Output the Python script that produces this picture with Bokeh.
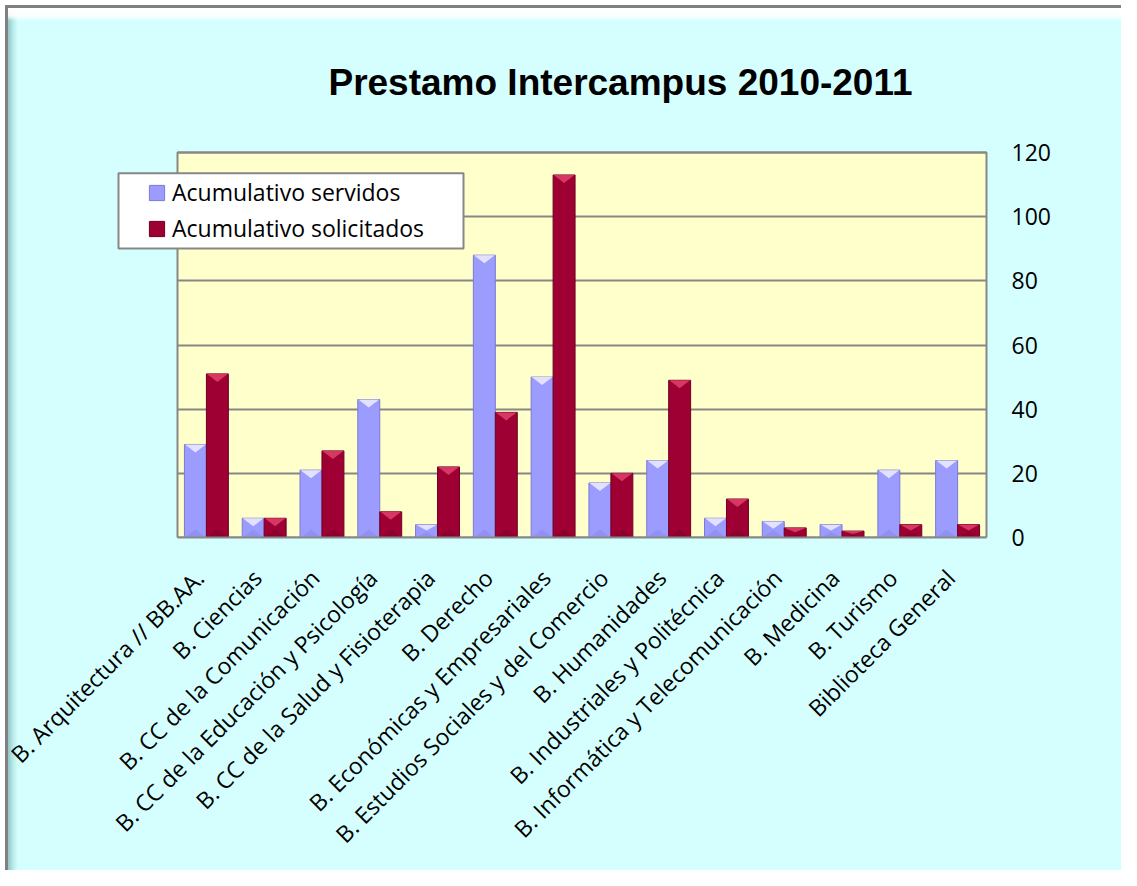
import numpy as np
from bokeh.plotting import figure
from bokeh.models import (ColumnDataSource, Range1d, FixedTicker, Legend, LegendItem,
                          Label, BoxAnnotation, Grid)
from bokeh.embed import file_html
from bokeh.resources import INLINE

# ---------------- data ----------------
categories = [
    "B. Arquitectura // BB.AA.",
    "B. Ciencias",
    "B. CC de la Comunicación",
    "B. CC de la Educación y Psicología",
    "B. CC de la Salud y Fisioterapia",
    "B. Derecho",
    "B. Económicas y Empresariales",
    "B. Estudios Sociales y del Comercio",
    "B. Humanidades",
    "B. Industriales y Politécnica",
    "B. Informática y Telecomunicación",
    "B. Medicina",
    "B. Turismo",
    "Biblioteca General",
]
servidos = [29, 6, 21, 43, 4, 88, 50, 17, 24, 6, 5, 4, 21, 24]
solicitados = [51, 6, 27, 8, 22, 39, 113, 20, 49, 12, 3, 2, 4, 4]
series_names = ["Acumulativo servidos", "Acumulativo solicitados"]
y_ticks = [0, 20, 40, 60, 80, 100, 120]
title_text = "Prestamo Intercampus 2010-2011"

# ---------------- style ----------------
FONT = "Open Sans"
GRID = "#878787"
C_SERV = "#9C9CFF"
C_SERV_EDGE = "#7A7AD2"
C_SERV_TOP = "#EAEAFF"
C_SERV_BOT = "#8E8EF0"
C_SOL = "#9E0033"
C_SOL_EDGE = "#6E0022"
C_SOL_TOP = "#DE3D68"
C_SOL_BOT = "#86002B"

W, H = 1121, 870
# plot-area position in pixels (left, right, top, bottom)
PA_L, PA_R, PA_T, PA_B = 177, 986, 152, 537
FRAME_R = 990                     # frame extends from (0,0) to (FRAME_R, PA_B)
n = len(categories)
ppx = (PA_R - PA_L) / n           # pixels per category
ppy = (PA_B - PA_T) / y_ticks[-1]  # pixels per unit

x_start = -0.5 - PA_L / ppx
x_end = n - 0.5 + (FRAME_R - PA_R) / ppx
y_end = y_ticks[-1] + PA_T / ppy

p = figure(width=W, height=H, output_backend="svg", toolbar_location=None, title=None,
           x_range=Range1d(x_start, x_end), y_range=Range1d(0, y_end),
           y_axis_location="right",
           min_border_left=0, min_border_right=W - FRAME_R, min_border_top=0,
           min_border_bottom=H - PA_B)
p.border_fill_alpha = 0
p.background_fill_alpha = 0
p.outline_line_color = None

# outer chart frame with bevel (CSS background of the figure element)
p.styles = {
    "background": ", ".join([
        "linear-gradient(to bottom, rgba(255,255,255,1) 0%, rgba(255,255,255,0.9) 60%, rgba(255,255,255,0)) 8px 8px / calc(100% - 8px) 13px no-repeat",
        "linear-gradient(to right, #93c6c6, #b9eaea 50%, rgba(213,255,255,0)) 8px 8px / 10px calc(100% - 8px) no-repeat",
        "linear-gradient(#808080, #808080) 5px 5px / 3px calc(100% - 5px) no-repeat",
        "linear-gradient(#808080, #808080) 5px 5px / calc(100% - 5px) 3px no-repeat",
        "linear-gradient(#D5FFFF, #D5FFFF) 8px 8px / calc(100% - 8px) calc(100% - 8px) no-repeat",
        "#FFFFFF",
    ])
}

# yellow plot area
p.add_layout(BoxAnnotation(left=-0.5, right=n - 0.5, bottom=0, top=y_ticks[-1],
                           fill_color="#FFFFCC", fill_alpha=1, line_color=GRID,
                           line_width=2, line_alpha=1, level="image"))

# grid lines limited to the plot area
p.xgrid.grid_line_color = None
p.ygrid.grid_line_color = None
if "cross_bounds" in Grid.properties():
    g = Grid(dimension=1, ticker=FixedTicker(ticks=y_ticks), grid_line_color=GRID,
             grid_line_width=2, cross_bounds=(-0.5, n - 0.5), level="underlay")
    p.add_layout(g)
else:
    p.segment(x0=[-0.5] * len(y_ticks), x1=[n - 0.5] * len(y_ticks), y0=y_ticks, y1=y_ticks,
              line_color=GRID, line_width=2, level="underlay")

# ---------------- bars ----------------
xs = np.arange(n, dtype=float)
bw = 0.38
x1 = xs - bw / 2
x2 = xs + bw / 2
src = ColumnDataSource(dict(x1=x1, x2=x2, s=servidos, q=solicitados))

r1 = p.vbar(x="x1", top="s", width=bw, bottom=0, source=src,
            fill_color=C_SERV, line_color=C_SERV_EDGE, line_width=1)
r2 = p.vbar(x="x2", top="q", width=bw, bottom=0, source=src,
            fill_color=C_SOL, line_color=C_SOL_EDGE, line_width=1)


def bevels(xc, vals):
    top_xs, top_ys, bot_xs, bot_ys = [], [], [], []
    for x, v in zip(xc, vals):
        d = min(8 / ppy, v * 0.45)
        l, r = x - bw / 2 + 0.01, x + bw / 2 - 0.01
        top_xs.append([l, r, x])
        top_ys.append([v, v, v - d])
        bot_xs.append([l, r, x])
        bot_ys.append([0, 0, d])
    return top_xs, top_ys, bot_xs, bot_ys


for xc, vals, ctop, cbot in ((x1, servidos, C_SERV_TOP, C_SERV_BOT),
                             (x2, solicitados, C_SOL_TOP, C_SOL_BOT)):
    txs, tys, bxs, bys = bevels(xc, vals)
    p.patches(txs, tys, fill_color=ctop, line_color=None, fill_alpha=0.9)
    p.patches(bxs, bys, fill_color=cbot, line_color=None, fill_alpha=0.8)

# ---------------- axes ----------------
# category labels are anchored a little left of each group centre (as in the original)
label_shift = 7 / ppx
tick_pos = [float(i) - label_shift for i in range(n)]
p.xaxis.ticker = FixedTicker(ticks=tick_pos)
p.xaxis.major_label_overrides = {t: c for t, c in zip(tick_pos, categories)}
p.xaxis.major_label_orientation = np.pi / 4
p.xaxis.major_label_text_font = FONT
p.xaxis.major_label_text_font_size = "23px"
p.xaxis.major_label_text_color = "black"
p.xaxis.major_label_standoff = 36
p.xaxis.major_tick_line_color = None
p.xaxis.minor_tick_line_color = None
p.xaxis.major_tick_out = 0
p.xaxis.axis_line_color = GRID
p.xaxis.axis_line_width = 2
p.xaxis.bounds = (-0.5, n - 0.5)

p.yaxis.ticker = FixedTicker(ticks=y_ticks)
p.yaxis.bounds = (y_ticks[0], y_ticks[-1])
p.yaxis.major_label_text_font = FONT
p.yaxis.major_label_text_font_size = "23px"
p.yaxis.major_label_text_color = "black"
p.yaxis.major_label_standoff = 1011 - FRAME_R
p.yaxis.major_tick_line_color = None
p.yaxis.minor_tick_line_color = None
p.yaxis.major_tick_out = 0
p.yaxis.axis_line_color = None

# ---------------- title ----------------
p.add_layout(Label(x=620, y=PA_B - 82, x_units="screen", y_units="screen", text=title_text,
                   text_font="Liberation Sans", text_font_style="bold",
                   text_font_size="37px", text_color="black",
                   text_align="center", text_baseline="middle"))

# ---------------- legend ----------------
p.add_layout(BoxAnnotation(left=118, right=463, top=PA_B - 172.7, bottom=PA_B - 248,
                           left_units="screen", right_units="screen",
                           top_units="screen", bottom_units="screen",
                           fill_color="white", fill_alpha=1, line_color=GRID,
                           line_width=2, line_alpha=1))
legend = Legend(items=[LegendItem(label=series_names[0], renderers=[r1]),
                       LegendItem(label=series_names[1], renderers=[r2])],
                location=(147, PA_B - 244), padding=0, spacing=4, margin=0,
                glyph_width=19, glyph_height=19, label_height=32, label_standoff=6,
                label_text_font=FONT, label_text_font_size="23px",
                label_text_color="black",
                border_line_color=None, background_fill_alpha=0)
p.add_layout(legend)

open("out.html", "w").write(file_html(p, INLINE))
